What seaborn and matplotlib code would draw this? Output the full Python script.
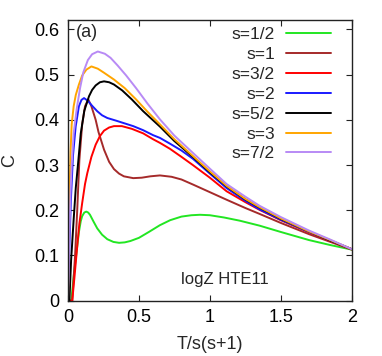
import numpy as np
import pandas as pd
import matplotlib
matplotlib.use("Agg")
import matplotlib.pyplot as plt
import seaborn as sns

# ── Data ──────────────────────────────────────────────────────────────────────

labels = ["s=1/2", "s=1", "s=3/2", "s=2", "s=5/2", "s=3", "s=7/2"]
colors = ["#22e622", "#a52a2a", "#ff0000", "#1a1aff", "#000000", "#ffa500", "#b88af5"]

t_half = [0, 0.023, 0.042, 0.065, 0.077, 0.09, 0.1, 0.115, 0.129, 0.142, 0.155, 0.18,
          0.206, 0.24, 0.277, 0.32, 0.36, 0.4, 0.44, 0.5, 0.57, 0.648, 0.72, 0.8, 0.87,
          0.93, 1.0, 1.1, 1.21, 1.35, 1.5, 1.7, 1.85, 2.0]
c_half = [0, 0.0, 0.06, 0.12, 0.152, 0.176, 0.187, 0.195, 0.197, 0.195, 0.19, 0.175,
          0.16, 0.146, 0.136, 0.13, 0.128, 0.129, 0.132, 0.139, 0.152, 0.167, 0.178,
          0.186, 0.189, 0.19, 0.189, 0.184, 0.177, 0.166, 0.152, 0.134, 0.123, 0.113]

t_one = [0, 0.03, 0.05, 0.065, 0.08, 0.1, 0.12, 0.143, 0.165, 0.195, 0.215, 0.254, 0.29,
         0.324, 0.36, 0.394, 0.46, 0.52, 0.58, 0.648, 0.73, 0.8, 0.88, 1.0, 1.12, 1.25,
         1.35, 1.5, 1.7, 1.85, 2.0]
c_one = [0, 0.0, 0.1, 0.2, 0.31, 0.39, 0.43, 0.445, 0.43, 0.4, 0.373, 0.334, 0.307,
         0.291, 0.281, 0.275, 0.271, 0.272, 0.275, 0.277, 0.274, 0.268, 0.257, 0.24,
         0.223, 0.205, 0.192, 0.172, 0.147, 0.13, 0.113]

t_three_half = [0, 0.03, 0.045, 0.065, 0.08, 0.1, 0.12, 0.136, 0.165, 0.195, 0.225,
                0.254, 0.29, 0.324, 0.38, 0.45, 0.53, 0.6, 0.648, 0.718, 0.8, 0.88,
                1.0, 1.118, 1.25, 1.35, 1.5, 1.7, 1.85, 2.0]
c_three_half = [0, 0.0, 0.05, 0.12, 0.17, 0.216, 0.258, 0.282, 0.318, 0.345, 0.364,
                0.376, 0.383, 0.386, 0.386, 0.38, 0.37, 0.357, 0.349, 0.336, 0.318,
                0.3, 0.272, 0.242, 0.218, 0.201, 0.178, 0.151, 0.132, 0.114]

t_two = [0, 0.004, 0.01, 0.02, 0.035, 0.054, 0.077, 0.095, 0.113, 0.14, 0.17, 0.206,
         0.24, 0.277, 0.34, 0.4, 0.46, 0.53, 0.6, 0.648, 0.72, 0.8, 0.88, 1.0, 1.118,
         1.25, 1.35, 1.5, 1.7, 1.85, 2.0]
c_two = [0, 0.05, 0.12, 0.22, 0.32, 0.385, 0.43, 0.444, 0.448, 0.442, 0.431, 0.419,
         0.41, 0.404, 0.398, 0.392, 0.386, 0.377, 0.366, 0.36, 0.347, 0.332, 0.314,
         0.281, 0.249, 0.221, 0.202, 0.179, 0.152, 0.133, 0.114]

t_five_half = [0, 0.01, 0.022, 0.04, 0.055, 0.073, 0.09, 0.115, 0.148, 0.17, 0.195,
               0.225, 0.254, 0.29, 0.324, 0.382, 0.45, 0.53, 0.648, 0.75, 0.88, 1.0,
               1.118, 1.25, 1.35, 1.5, 1.7, 1.85, 2.0]
c_five_half = [0, 0.0, 0.09, 0.18, 0.25, 0.31, 0.37, 0.42, 0.452, 0.466, 0.476, 0.483,
               0.485, 0.483, 0.478, 0.465, 0.445, 0.419, 0.385, 0.353, 0.318, 0.284,
               0.253, 0.224, 0.206, 0.181, 0.153, 0.133, 0.114]

t_three = [0, 0.004, 0.01, 0.018, 0.026, 0.04, 0.055, 0.077, 0.1, 0.13, 0.165, 0.21,
           0.254, 0.324, 0.4, 0.48, 0.56, 0.648, 0.75, 0.88, 1.0, 1.118, 1.25, 1.35,
           1.5, 1.7, 1.85, 2.0]
c_three = [0, 0.1, 0.22, 0.33, 0.39, 0.43, 0.455, 0.478, 0.498, 0.511, 0.518, 0.513,
           0.504, 0.489, 0.47, 0.445, 0.418, 0.39, 0.357, 0.32, 0.286, 0.254, 0.225,
           0.207, 0.182, 0.153, 0.134, 0.114]

t_seven_half = [0, 0.004, 0.01, 0.018, 0.026, 0.04, 0.061, 0.085, 0.108, 0.14, 0.17,
                0.21, 0.26, 0.3, 0.35, 0.41, 0.48, 0.56, 0.648, 0.75, 0.88, 1.0, 1.118,
                1.25, 1.35, 1.5, 1.7, 1.85, 2.0]
c_seven_half = [0, 0.06, 0.15, 0.24, 0.3, 0.37, 0.423, 0.47, 0.505, 0.532, 0.545, 0.551,
                0.546, 0.537, 0.52, 0.498, 0.47, 0.436, 0.401, 0.365, 0.327, 0.292,
                0.258, 0.23, 0.21, 0.185, 0.155, 0.135, 0.114]

series_t = [t_half, t_one, t_three_half, t_two, t_five_half, t_three, t_seven_half]
series_c = [c_half, c_one, c_three_half, c_two, c_five_half, c_three, c_seven_half]

x_ticks = [0, 0.5, 1, 1.5, 2]
x_tick_labels = ["0", "0.5", "1", "1.5", "2"]
y_ticks = [0, 0.1, 0.2, 0.3, 0.4, 0.5, 0.6]
y_tick_labels = ["0", "0.1", "0.2", "0.3", "0.4", "0.5", "0.6"]

# ── Plot ──────────────────────────────────────────────────────────────────────

sns.set_style("ticks")
plt.rcParams["font.family"] = ["Liberation Sans", "DejaVu Sans"]

fig = plt.figure(figsize=(3.82, 3.56), dpi=100)
ax = fig.add_axes([0.178, 0.1553, 0.7427, 0.7877])

for t, c, lab, col in zip(series_t, series_c, labels, colors):
    sns.lineplot(x=t, y=c, ax=ax, color=col, label=lab, linewidth=1.4,
                 sort=False, estimator=None)

ax.set_xlim(0, 2)
ax.set_ylim(0, 0.62)
ax.set_xticks(x_ticks)
ax.set_xticklabels(x_tick_labels)
ax.set_yticks(y_ticks)
ax.set_yticklabels(y_tick_labels)
ax.tick_params(direction="in", length=4, width=0.8, labelsize=13, pad=6,
               top=True, right=True, colors="#222222", labelcolor="black")
for sp in ax.spines.values():
    sp.set_linewidth(1.0)
    sp.set_color("#222222")

ax.set_xlabel("T/s(s+1)", fontsize=13)
ax.set_ylabel("C", fontsize=13)
ax.xaxis.set_label_coords(0.5, -0.126)
ax.yaxis.set_label_coords(-0.176, 0.5)

ax.text(0.027, 0.985, "(a)", transform=ax.transAxes, fontsize=13, va="top", ha="left")
ax.text(0.80, 0.048, "logZ HTE11", transform=ax.transData,
        fontsize=12, va="center", ha="left")

leg = ax.legend(loc="upper right", bbox_to_anchor=(0.927, 0.975), frameon=False,
                markerfirst=False, fontsize=12.5, handlelength=2.6, handletextpad=0.63,
                labelspacing=0.27, borderpad=0, borderaxespad=0)
for col in leg._legend_handle_box.get_children():
    col.align = "right"

fig.savefig("out.png", dpi=100)
